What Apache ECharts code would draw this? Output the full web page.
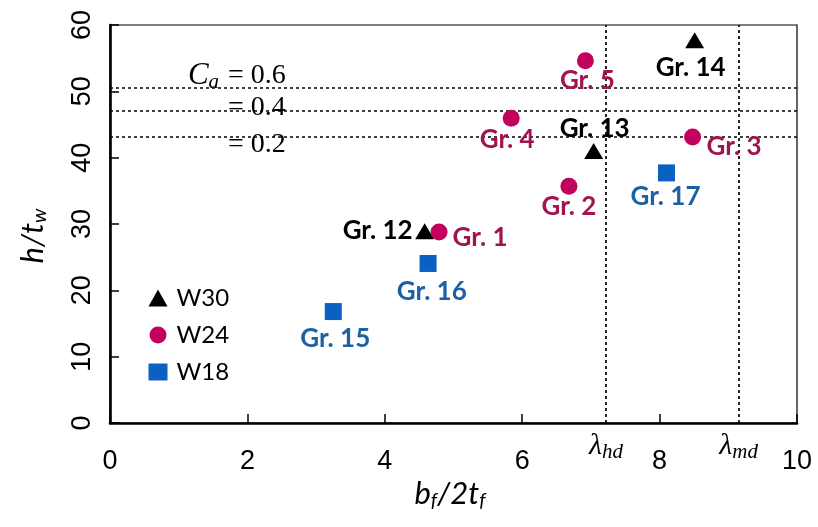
<!DOCTYPE html>
<html><head><meta charset="utf-8">
<script src="https://cdn.jsdelivr.net/npm/echarts@6/dist/echarts.min.js"></script>
<style>html,body{margin:0;padding:0;background:#fff}#c{width:818px;height:527px}</style>
</head><body><div id="c"></div>
<script>
// ---- data ----
const xTicks = [0, 2, 4, 6, 8, 10];
const yTicks = [0, 10, 20, 30, 40, 50, 60];
const seriesNames = ['W30', 'W24', 'W18'];
const w30Names = ['Gr. 12', 'Gr. 13', 'Gr. 14'];
const w30X = [4.58, 7.04, 8.51];
const w30Y = [28.9, 41.0, 57.7];
const w24Names = ['Gr. 1', 'Gr. 2', 'Gr. 3', 'Gr. 4', 'Gr. 5'];
const w24X = [4.79, 6.68, 8.48, 5.84, 6.92];
const w24Y = [28.8, 35.7, 43.1, 45.95, 54.6];
const w18Names = ['Gr. 15', 'Gr. 16', 'Gr. 17'];
const w18X = [3.25, 4.63, 8.10];
const w18Y = [16.8, 24.05, 37.7];
const caValues = ['0.6', '0.4', '0.2'];
const caLevels = [50.6, 47.0, 43.2];
const lambdaNames = ['hd', 'md'];
const lambdaX = [7.22, 9.15];

// ---- styles / placement ----
const labelPlace = {
  'Gr. 12': { align: 'right', offset: [-12, -0.5] },
  'Gr. 1': { align: 'left', offset: [13.5, 5.5] },
  'Gr. 3': { align: 'left', offset: [14, 10] },
  'Gr. 14': { offset: [-4, 27] },
  'Gr. 13': { offset: [1, -22.5] },
  'Gr. 2': { offset: [0, 20] },
  'Gr. 4': { offset: [-4, 21] },
  'Gr. 5': { offset: [2, 20] },
  'Gr. 15': { offset: [2, 27.3] },
  'Gr. 16': { offset: [3.7, 27.7] },
  'Gr. 17': { offset: [-1, 24] }
};
const seriesStyle = {
  W30: { symbol: 'triangle', size: [19, 16], color: '#000000', label: '#000000' },
  W24: { symbol: 'circle', size: 17, color: '#C2005E', label: '#A0144F' },
  W18: { symbol: 'rect', size: 17, color: '#0B60C2', label: '#1C60A6' }
};
const caDy = [-12, -3.5, 8];
const caRightX = 2.56;

function buildData(names, xs, ys) {
  return names.map((n, i) => {
    const p = labelPlace[n] || {};
    const lab = { offset: p.offset || [0, 0] };
    if (p.align) lab.align = p.align;
    return { name: n, value: [xs[i], ys[i]], label: lab };
  });
}
const dataMap = {
  W30: buildData(w30Names, w30X, w30Y),
  W24: buildData(w24Names, w24X, w24Y),
  W18: buildData(w18Names, w18X, w18Y)
};

const chart = echarts.init(document.getElementById('c'), null, { renderer: 'canvas' });

const dotted = { color: '#000', width: 1.7, type: [3, 3] };
const series = seriesNames.map(s => ({
  name: s,
  type: 'scatter',
  symbol: seriesStyle[s].symbol,
  symbolSize: seriesStyle[s].size,
  itemStyle: { color: seriesStyle[s].color, opacity: 1 },
  label: {
    show: true,
    position: 'inside',
    formatter: '{b}',
    color: seriesStyle[s].label,
    fontFamily: 'Lato',
    fontWeight: 'bold',
    fontSize: 26
  },
  data: dataMap[s],
  z: 5
}));
series.push({
  name: 'guides',
  type: 'scatter',
  data: [],
  silent: true,
  markLine: {
    silent: true,
    symbol: 'none',
    label: { show: false },
    lineStyle: dotted,
    animation: false,
    data: caLevels.map(v => ({ yAxis: v })).concat(
      lambdaX.map(v => [{ coord: [v, 0] }, { coord: [v, 60] }])
    )
  }
});

chart.setOption({
  animation: false,
  grid: { left: 110, right: 21, top: 25, bottom: 104, show: true, borderColor: '#000', borderWidth: 1.2, backgroundColor: 'transparent' },
  xAxis: {
    type: 'value', min: xTicks[0], max: xTicks[xTicks.length - 1], interval: 2,
    axisLine: { show: true, lineStyle: { color: '#000', width: 2.6 } },
    axisTick: { show: true, inside: true, length: 9, lineStyle: { color: '#000', width: 1.5 } },
    splitLine: { show: false },
    axisLabel: { color: '#000', fontFamily: 'Liberation Sans', fontSize: 27, margin: 25 }
  },
  yAxis: {
    type: 'value', min: yTicks[0], max: yTicks[yTicks.length - 1], interval: 10,
    axisLine: { show: true, lineStyle: { color: '#000', width: 2.6 } },
    axisTick: { show: true, inside: true, length: 9, lineStyle: { color: '#000', width: 1.5 } },
    splitLine: { show: false },
    axisLabel: { color: '#000', fontFamily: 'Liberation Sans', fontSize: 27, rotate: 90, margin: 14 }
  },
  legend: {
    data: seriesNames,
    orient: 'vertical',
    left: 143.5, top: 281,
    itemWidth: 19, itemHeight: 17, itemGap: 13,
    textStyle: { fontFamily: 'Lato', fontSize: 24, color: '#000', padding: [0, 0, 0, 4] }
  },
  series: series
});

function pt(x, y) { return chart.convertToPixel({ gridIndex: 0 }, [x, y]); }

const graphics = [];
const serif = 'Liberation Serif';
caValues.forEach((v, i) => {
  const p = pt(caRightX, caLevels[i]);
  const txt = i === 0 ? '{c|C}{a|a}{t| = ' + v + '}' : '{t|= ' + v + '}';
  graphics.push({
    type: 'text', x: p[0], y: p[1] + caDy[i], z: 10,
    style: {
      text: txt, align: 'right', verticalAlign: 'middle',
      rich: {
        c: { fontFamily: serif, fontStyle: 'italic', fontSize: 31, lineHeight: 36, fill: '#000' },
        a: { fontFamily: serif, fontStyle: 'italic', fontSize: 21, verticalAlign: 'top', padding: [15, 2, 0, 0], fill: '#000' },
        t: { fontFamily: serif, fontSize: 28, lineHeight: 36, fill: '#000' }
      }
    }
  });
});
lambdaNames.forEach((n, i) => {
  const p = pt(lambdaX[i], 0);
  graphics.push({
    type: 'text', x: p[0], y: 446, z: 10,
    style: {
      text: '{l|λ}{s|' + n + '}', align: 'center', verticalAlign: 'middle',
      rich: {
        l: { fontFamily: serif, fontStyle: 'italic', fontSize: 30, lineHeight: 38, fill: '#000' },
        s: { fontFamily: serif, fontStyle: 'italic', fontSize: 21, verticalAlign: 'top', padding: [15, 0, 0, 0], fill: '#000' }
      }
    }
  });
});
const nameRich = {
  m: { fontFamily: 'Lato', fontStyle: 'italic', fontSize: 31, lineHeight: 40, fill: '#000' },
  s: { fontFamily: 'Lato', fontStyle: 'italic', fontSize: 20, verticalAlign: 'top', padding: [17, 0, 0, 0], fill: '#000' }
};
graphics.push({
  type: 'text', x: 450, y: 494, z: 10,
  style: { text: '{m|b}{s|f}{m|/2t}{s|f}', align: 'center', verticalAlign: 'middle', rich: nameRich }
});
graphics.push({
  type: 'text', x: 33, y: 236, rotation: Math.PI / 2, z: 10,
  style: { text: '{m|h/t}{s|w}', align: 'center', verticalAlign: 'middle', rich: nameRich }
});
chart.setOption({ graphic: graphics });
</script>
</body></html>
